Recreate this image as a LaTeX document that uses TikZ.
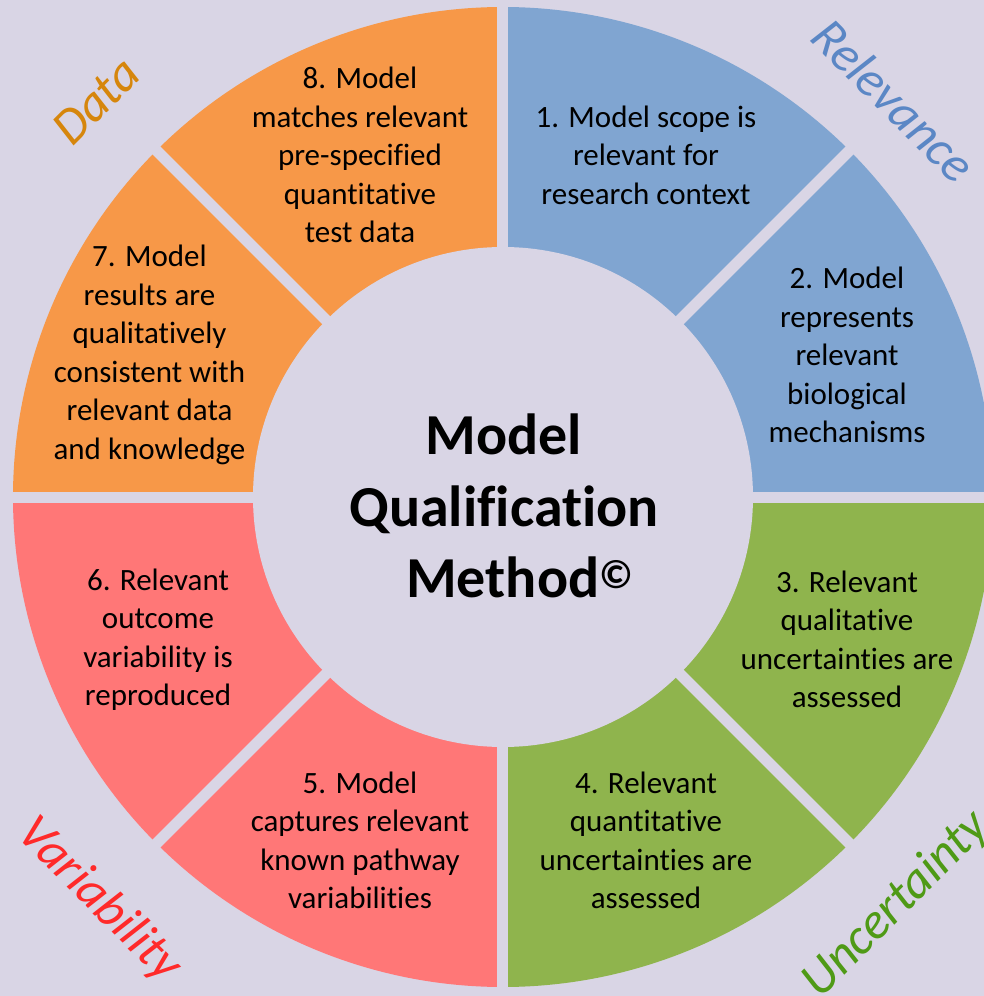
\documentclass[tikz,border=0pt]{standalone}
\usepackage{fontspec}
\setmainfont[Ligatures=NoCommon]{Carlito}
\definecolor{bg}{HTML}{D9D5E5}
\definecolor{segblue}{HTML}{80A5D1}
\definecolor{segorange}{HTML}{F79848}
\definecolor{segred}{HTML}{FF7777}
\definecolor{seggreen}{HTML}{8FB44D}
\definecolor{labblue}{HTML}{5B87C5}
\definecolor{laborange}{HTML}{D6860C}
\definecolor{labred}{HTML}{FF2A2A}
\definecolor{labgreen}{HTML}{4F9A16}
\tikzset{
  segtext/.style={align=center, text=black, inner sep=0pt, font=\fontsize{31}{38.5}\selectfont},
  cattext/.style={inner sep=0pt, font=\fontsize{51}{60}\selectfont\itshape},
  titletext/.style={align=center, text=black, inner sep=0pt, font=\fontsize{58}{71.5}\selectfont\bfseries}
}
\begin{document}
\begin{tikzpicture}[x=1pt,y=1pt]
\useasboundingbox (-503,-499) rectangle (481,497);
\clip (-503,-499) rectangle (481,497);
\fill[bg] (-503,-499) rectangle (481,497);
% sectors
\fill[segblue]   (0,0) -- (45:490)  arc[start angle=45,  end angle=90,  radius=490] -- cycle;
\fill[segblue]   (0,0) -- (0:490)   arc[start angle=0,   end angle=45,  radius=490] -- cycle;
\fill[seggreen]  (0,0) -- (-45:490) arc[start angle=-45, end angle=0,   radius=490] -- cycle;
\fill[seggreen]  (0,0) -- (-90:490) arc[start angle=-90, end angle=-45, radius=490] -- cycle;
\fill[segred]    (0,0) -- (225:490) arc[start angle=225, end angle=270, radius=490] -- cycle;
\fill[segred]    (0,0) -- (180:490) arc[start angle=180, end angle=225, radius=490] -- cycle;
\fill[segorange] (0,0) -- (135:490) arc[start angle=135, end angle=180, radius=490] -- cycle;
\fill[segorange] (0,0) -- (90:490)  arc[start angle=90,  end angle=135, radius=490] -- cycle;
% gaps
\foreach \a in {0,45,...,315} \draw[bg, line width=11pt] (0,0) -- (\a:520);
\fill[bg] (0,0) circle[radius=250];
% segment texts
\node[segtext] (s1) at (143,342) {1. Model scope is\\relevant for\\research context};
\node[segtext] (s2) at (344,142) {2. Model\\represents\\relevant\\biological\\mechanisms};
\node[segtext] (s3) at (344,-142.5) {3. Relevant\\qualitative\\uncertainties are\\assessed};
\node[segtext] (s4) at (143,-343.5) {4. Relevant\\quantitative\\uncertainties are\\assessed};
\node[segtext] (s5) at (-143,-343.5) {5. Model\\captures relevant\\known pathway\\variabilities};
\node[segtext] (s6) at (-345,-142.5) {6. Relevant\\outcome\\variability is\\reproduced};
\node[segtext] (s7) at (-353.5,142) {7. Model\\results are\\qualitatively\\consistent with\\relevant data\\and knowledge};
\node[segtext] (s8) at (-143,342) {8. Model\\matches relevant\\pre-specified\\quantitative\\test data};
% title
\node[titletext] (title) at (1,-9) {Model\\Qualification\\\hspace*{32pt}Method\textsuperscript{©}};
% category labels
\node[cattext, text=labblue, rotate=-45] (relevance) at (391,397) {Relevance};
\node[cattext, text=laborange, rotate=45] (data) at (-407,396) {Data};
\node[cattext, text=labred, rotate=-45] (variability) at (-404,-403) {Variability};
\node[cattext, text=labgreen, rotate=45] (uncertainty) at (393,-408) {Uncertainty};
\end{tikzpicture}
\end{document}
